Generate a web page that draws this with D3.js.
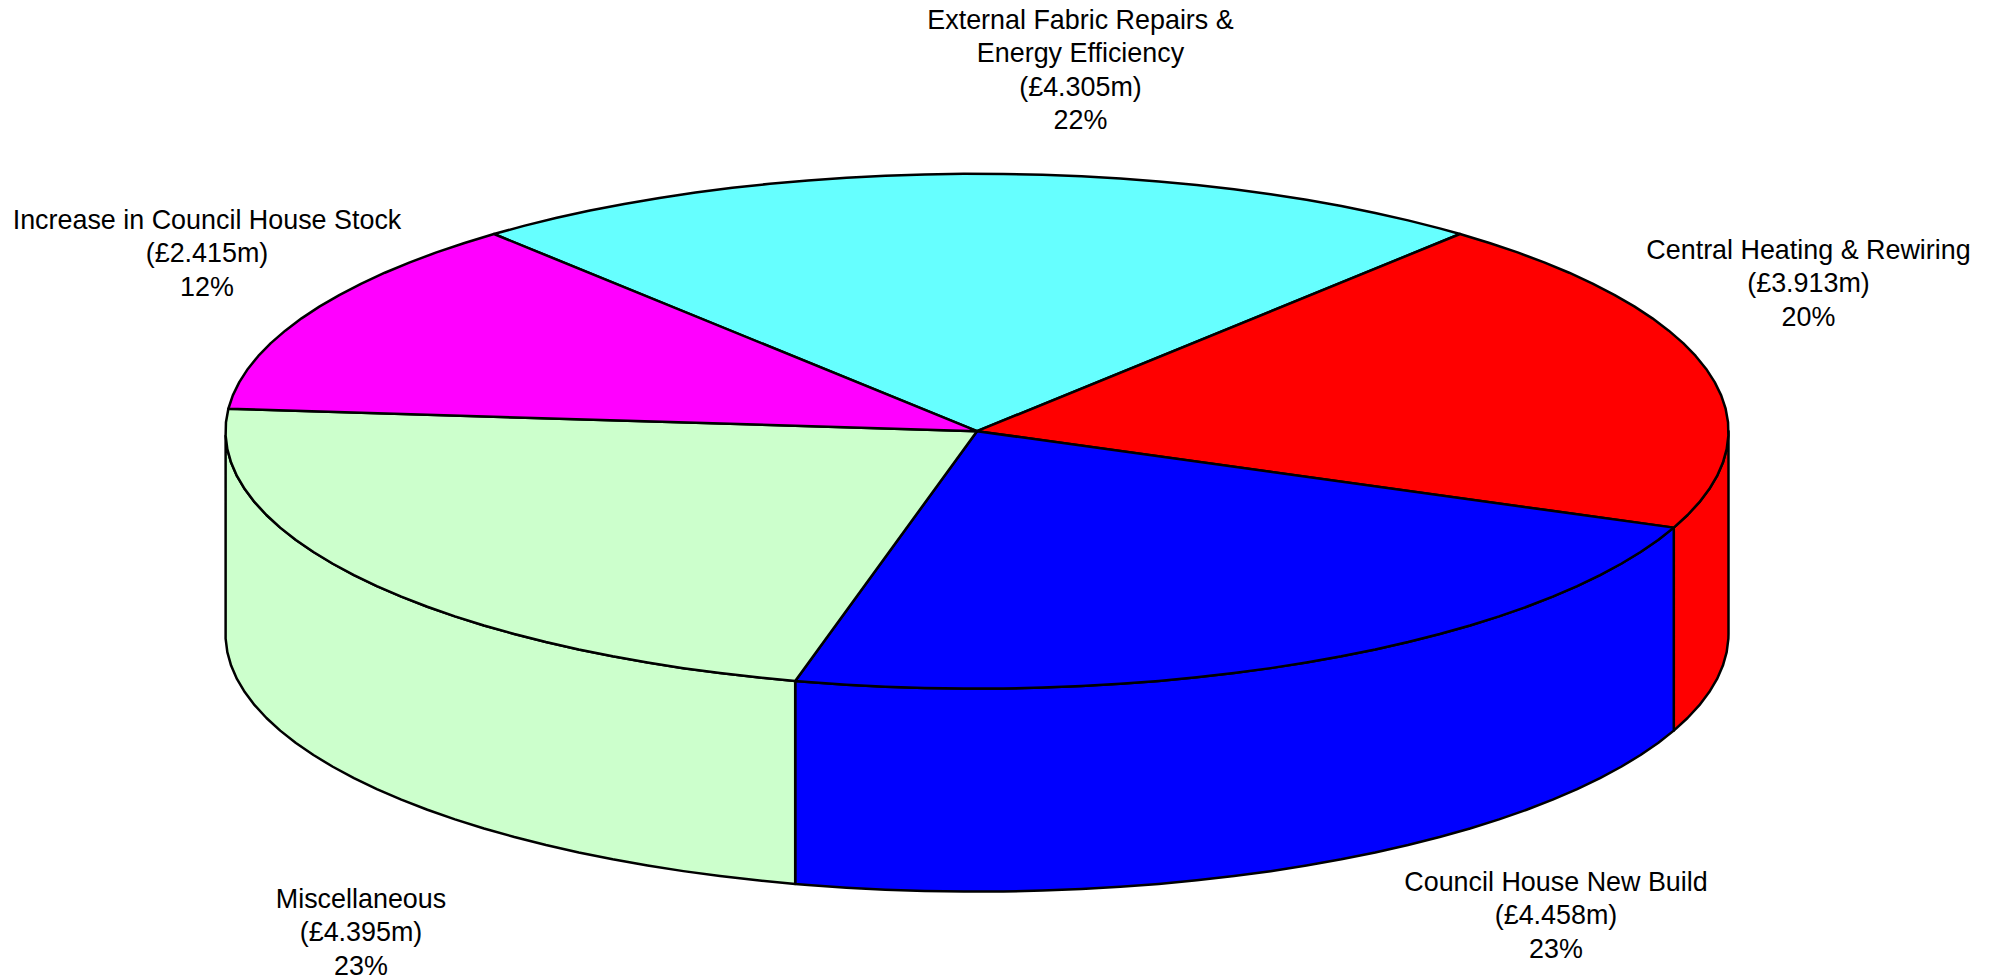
<!DOCTYPE html>
<html>
<head>
<meta charset="utf-8">
<script src="https://cdn.jsdelivr.net/npm/d3@7"></script>
<style>html,body{margin:0;padding:0;background:#fff;overflow:hidden}svg{display:block}</style>
</head>
<body>
<svg id="chart" width="1999" height="980"></svg>
<script>
const categories = ["External Fabric Repairs & Energy Efficiency", "Central Heating & Rewiring", "Council House New Build", "Miscellaneous", "Increase in Council House Stock"];
const amounts = [4.305, 3.913, 4.458, 4.395, 2.415];
const percents = [22, 20, 23, 23, 12];
const colors = ["#66ffff", "#ff0000", "#0000ff", "#ccffcc", "#ff00ff"];
const labelLines = [["External Fabric Repairs &", "Energy Efficiency"], ["Central Heating & Rewiring"], ["Council House New Build"], ["Miscellaneous"], ["Increase in Council House Stock"]];
const labelX = [1080.5, 1808.5, 1556, 361, 207];
const labelY = [29, 259, 891, 908, 229];

const lineGap = 33.4, wallDepth = 203, sampleDeg = 3;
const x = d3.scaleLinear().domain([-1, 1]).range([225.5, 1728.5]);
const y = d3.scaleLinear().domain([-1, 1]).range([173.8, 688.6]);

const total = d3.sum(amounts);
const sweeps = amounts.map(v => Math.round(v / total * 360));
const rad = d => d * Math.PI / 180;
const pie = d3.pie().sort(null).value(d => d)
  .startAngle(rad(-sweeps[0] / 2)).endAngle(rad(360 - sweeps[0] / 2));
const slices = pie(sweeps);

function rimAngles(a0, a1) {
  const out = [];
  for (let a = a0; a < a1 - 1e-6; a += rad(sampleDeg)) out.push(a);
  out.push(a1);
  return out;
}
const rimPoint = (a, dy = 0) => [x(Math.sin(a)), y(-Math.cos(a)) + dy];
const line = d3.line();

const svg = d3.select("#chart");
const pieG = svg.append("g").attr("stroke", "#000").attr("stroke-width", 2.5).attr("stroke-linejoin", "round");

// Side walls: only the part of each slice that faces the viewer (90 to 270 degrees clockwise from top)
slices.forEach((s, i) => {
  if (s.endAngle <= rad(90) || s.startAngle >= rad(270)) return;
  const angles = rimAngles(s.startAngle, s.endAngle).filter(a => a >= rad(90) && a <= rad(270));
  if (s.startAngle < rad(90)) angles.unshift(rad(90));
  const pts = angles.map(a => rimPoint(a)).concat(angles.slice().reverse().map(a => rimPoint(a, wallDepth)));
  pieG.append("path").attr("d", line(pts) + "Z").attr("fill", colors[i]);
});

// Top face
slices.forEach((s, i) => {
  const pts = [[x(0), y(0)]].concat(rimAngles(s.startAngle, s.endAngle).map(a => rimPoint(a)));
  pieG.append("path").attr("d", line(pts) + "Z").attr("fill", colors[i]);
});

// Labels
const labels = svg.append("g").attr("font-family", "'Liberation Sans', Arial, sans-serif")
  .attr("font-size", 26.9).attr("fill", "#000").attr("text-anchor", "middle");
categories.forEach((c, i) => {
  const lines = labelLines[i].concat([`(£${amounts[i].toFixed(3)}m)`, `${percents[i]}%`]);
  lines.forEach((t, j) => {
    labels.append("text").attr("x", labelX[i]).attr("y", labelY[i] + j * lineGap).text(t);
  });
});
</script>
</body>
</html>
